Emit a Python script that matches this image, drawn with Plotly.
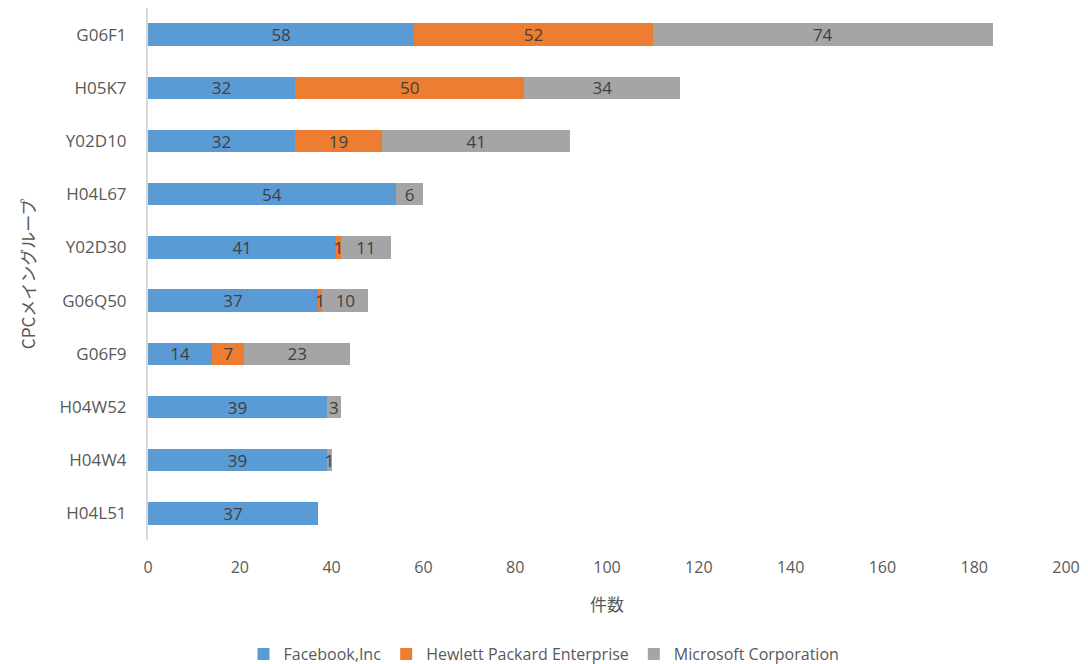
import plotly.graph_objects as go

categories = ["G06F1", "H05K7", "Y02D10", "H04L67", "Y02D30", "G06Q50", "G06F9", "H04W52", "H04W4", "H04L51"]
facebook = [58, 32, 32, 54, 41, 37, 14, 39, 39, 37]
hpe = [52, 50, 19, 0, 1, 1, 7, 0, 0, 0]
microsoft = [74, 34, 41, 6, 11, 10, 23, 3, 1, 0]
series_names = ["Facebook,Inc", "Hewlett Packard Enterprise", "Microsoft Corporation"]
colors = ["#5B9BD5", "#ED7D31", "#A5A5A5"]
x_ticks = [0, 20, 40, 60, 80, 100, 120, 140, 160, 180, 200]

fig = go.Figure()
for name, vals, col in zip(series_names, [facebook, hpe, microsoft], colors):
    fig.add_trace(go.Bar(
        y=categories, x=vals, name=name, orientation="h",
        marker=dict(color=col, line=dict(width=0)),
        text=[str(v) if v else "" for v in vals],
        textposition="inside", insidetextanchor="middle", textangle=0,
        textfont=dict(size=17, color="#404040", family="Open Sans"),
        constraintext="none", cliponaxis=False,
    ))

fig.update_layout(
    barmode="stack", bargap=0.58,
    width=1088, height=664,
    margin=dict(l=148, r=20, t=8, b=124),
    plot_bgcolor="white", paper_bgcolor="white",
    font=dict(family="Open Sans", color="#595959", size=16),
    uniformtext=dict(minsize=17, mode="show"),
    showlegend=True,
    legend=dict(orientation="h", x=0.5, xanchor="center", xref="container",
                y=0.015, yanchor="middle", yref="container",
                font=dict(size=16, color="#595959"), traceorder="normal",
                itemwidth=30),
    xaxis=dict(range=[0, 200], tickvals=x_ticks, showgrid=False, zeroline=False,
               showline=False, ticks="", ticklabelstandoff=16,
               tickfont=dict(size=16, color="#595959"),
               title=dict(text="件数", font=dict(size=17, family="Noto Sans CJK JP", color="#595959"), standoff=22)),
    yaxis=dict(categoryorder="array", categoryarray=categories[::-1], showgrid=False,
               showline=True, linecolor="#D9D9D9", linewidth=2, ticks="",
               ticklabelstandoff=16,
               tickfont=dict(size=17, color="#595959"),
               title=dict(text="CPCメイングループ", font=dict(size=17, family="Noto Sans CJK JP", color="#595959"), standoff=20)),
)

fig.write_html("out.html")
